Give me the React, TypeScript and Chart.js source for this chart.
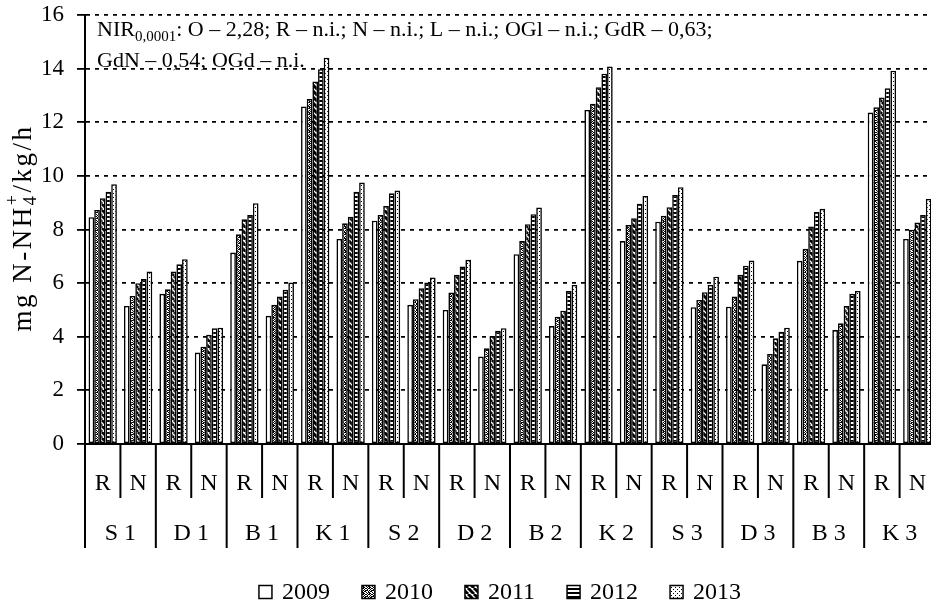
import React, { useEffect, useRef } from "react";
import { Chart, registerables } from "chart.js";

Chart.register(...registerables);

// ---- data ----
const groups = ["S 1", "D 1", "B 1", "K 1", "S 2", "D 2", "B 2", "K 2", "S 3", "D 3", "B 3", "K 3"];
const subLabels = ["R", "N"];
const categories = groups.flatMap((g) => subLabels.map((s) => `${g} ${s}`));
const years = ["2009", "2010", "2011", "2012", "2013"];
const y2009 = [8.46, 5.15, 5.6, 3.41, 7.14, 4.78, 12.59, 7.65, 8.33, 5.19, 5.0, 3.26, 7.08, 4.4, 12.46, 7.57, 8.29, 5.1, 5.12, 2.97, 6.83, 4.25, 12.36, 7.65];
const y2010 = [8.73, 5.52, 5.77, 3.63, 7.82, 5.19, 12.87, 8.23, 8.54, 5.4, 5.65, 3.57, 7.57, 4.75, 12.69, 8.17, 8.51, 5.37, 5.5, 3.36, 7.28, 4.5, 12.56, 7.99];
const y2011 = [9.17, 6.0, 6.43, 4.07, 8.38, 5.5, 13.52, 8.48, 8.88, 5.81, 6.31, 4.03, 8.2, 4.97, 13.31, 8.42, 8.83, 5.66, 6.31, 3.94, 8.11, 5.15, 12.92, 8.26];
const y2012 = [9.41, 6.15, 6.7, 4.32, 8.54, 5.75, 13.98, 9.41, 9.35, 6.02, 6.62, 4.22, 8.57, 5.71, 13.81, 8.96, 9.29, 5.93, 6.65, 4.19, 8.65, 5.6, 13.27, 8.54];
const y2013 = [9.69, 6.43, 6.89, 4.34, 8.98, 6.02, 14.41, 9.75, 9.45, 6.21, 6.87, 4.32, 8.82, 5.93, 14.08, 9.25, 9.58, 6.24, 6.84, 4.34, 8.77, 5.71, 13.92, 9.14];
const seriesValues = [y2009, y2010, y2011, y2012, y2013];
const yMin = 0;
const yMax = 16;
const yStep = 2;
const noteLine1 = { main: "NIR", sub: "0,0001", rest: ": O – 2,28; R – n.i.; N – n.i.; L – n.i.; OGl – n.i.; GdR – 0,63;" };
const noteLine2 = "GdN – 0,54; OGd – n.i.";
const yTitle = { a: "mg N-NH", sub: "4", sup: "+", b: "/kg/h" };

const FONT = '"Liberation Serif", "Times New Roman", serif';

const denseBits = [
  "101101",
  "010010",
  "110101",
  "001011",
  "101100",
  "010110",
];

function makePattern(kind: string): CanvasPattern | string {
  const c = document.createElement("canvas");
  const p = c.getContext("2d")!;
  if (kind === "empty") return "#ffffff";
  if (kind === "dense") {
    c.width = 6; c.height = 6;
    p.fillStyle = "#fff"; p.fillRect(0, 0, 6, 6);
    p.fillStyle = "#000";
    denseBits.forEach((row, y) => row.split("").forEach((b, x) => { if (b === "1") p.fillRect(x, y, 1, 1); }));
  } else if (kind === "diag") {
    c.width = 6; c.height = 6;
    p.fillStyle = "#fff"; p.fillRect(0, 0, 6, 6);
    p.strokeStyle = "#000"; p.lineWidth = 3;
    for (const o of [-6, 0, 6]) {
      p.beginPath(); p.moveTo(o, 0); p.lineTo(o + 6, 6); p.stroke();
    }
  } else if (kind === "hstripe") {
    c.width = 4; c.height = 4;
    p.fillStyle = "#fff"; p.fillRect(0, 0, 4, 4);
    p.fillStyle = "#000"; p.fillRect(0, 0, 4, 2);
  } else {
    c.width = 4; c.height = 4;
    p.fillStyle = "#fff"; p.fillRect(0, 0, 4, 4);
    p.fillStyle = "#000"; p.fillRect(1, 1, 1, 1); p.fillRect(3, 3, 1, 1);
  }
  return p.createPattern(c, "repeat")!;
}

const patternKinds = ["empty", "dense", "diag", "hstripe", "sparse"];

export default function App() {
  const ref = useRef<HTMLCanvasElement | null>(null);
  useEffect(() => {
    const canvas = ref.current!;
    const fills = patternKinds.map(makePattern);

    const overlay = {
      id: "overlay",
      afterDraw(chart: any) {
        const { ctx, chartArea, scales } = chart;
        const x = scales.x;
        const n = categories.length;
        const catW = (chartArea.right - chartArea.left) / n;
        const base = chartArea.bottom;
        ctx.save();
        // separators
        ctx.strokeStyle = "#000";
        ctx.lineWidth = 2;
        for (let i = 0; i <= n; i++) {
          const px = chartArea.left + i * catW;
          ctx.beginPath();
          ctx.moveTo(px, base);
          ctx.lineTo(px, i % 2 === 0 ? base + 104 : base + 54);
          ctx.stroke();
        }
        ctx.fillStyle = "#000";
        ctx.textAlign = "center";
        ctx.textBaseline = "middle";
        ctx.font = `24px ${FONT}`;
        categories.forEach((_, i) => ctx.fillText(subLabels[i % 2], x.getPixelForValue(i), base + 40));
        groups.forEach((g, gi) => {
          const cx = (x.getPixelForValue(2 * gi) + x.getPixelForValue(2 * gi + 1)) / 2;
          ctx.fillText(g, cx, base + 90);
        });

        // note text
        ctx.textAlign = "left";
        ctx.textBaseline = "alphabetic";
        let tx = 97;
        ctx.font = `22px ${FONT}`;
        ctx.fillText(noteLine1.main, tx, 36);
        tx += ctx.measureText(noteLine1.main).width;
        ctx.font = `15px ${FONT}`;
        ctx.fillText(noteLine1.sub, tx, 41);
        tx += ctx.measureText(noteLine1.sub).width;
        ctx.font = `22px ${FONT}`;
        ctx.fillText(noteLine1.rest, tx, 36);
        ctx.fillText(noteLine2, 97, 67);

        // y title
        ctx.save();
        ctx.translate(31, 228);
        ctx.rotate(-Math.PI / 2);
        (ctx as any).letterSpacing = "2.5px";
        ctx.font = `27px ${FONT}`;
        const wa = ctx.measureText(yTitle.a).width;
        const wb = ctx.measureText(yTitle.b).width;
        ctx.font = `18px ${FONT}`;
        const ws = Math.max(ctx.measureText(yTitle.sub).width, ctx.measureText(yTitle.sup).width);
        const total = wa + ws + wb;
        let sx = -total / 2;
        ctx.textBaseline = "alphabetic";
        ctx.font = `27px ${FONT}`;
        ctx.fillText(yTitle.a, sx, 0);
        sx += wa;
        ctx.font = `18px ${FONT}`;
        ctx.fillText(yTitle.sub, sx, 5);
        ctx.fillText(yTitle.sup, sx, -13);
        sx += ws;
        ctx.font = `27px ${FONT}`;
        ctx.fillText(yTitle.b, sx, 0);
        ctx.restore();

        // legend
        ctx.font = `24px ${FONT}`;
        ctx.textBaseline = "middle";
        const box = 13, gapText = 10, gapItem = 32;
        const widths = years.map((y) => box + gapText + ctx.measureText(y).width);
        const totalW = widths.reduce((a, b) => a + b, 0) + gapItem * (years.length - 1);
        let lx = 500 - totalW / 2;
        const ly = 592;
        years.forEach((y, i) => {
          ctx.fillStyle = fills[i] as any;
          ctx.fillRect(lx, ly - box / 2, box, box);
          ctx.strokeStyle = "#000";
          ctx.lineWidth = 1.5;
          ctx.strokeRect(lx, ly - box / 2, box, box);
          ctx.fillStyle = "#000";
          ctx.fillText(y, lx + box + gapText, ly + 1);
          lx += widths[i] + gapItem;
        });
        ctx.restore();
      },
    };

    const chart = new Chart(canvas, {
      type: "bar",
      data: {
        labels: categories,
        datasets: years.map((y, i) => ({
          label: y,
          data: seriesValues[i],
          backgroundColor: fills[i] as any,
          borderColor: "#000",
          borderWidth: 1.6,
          borderSkipped: false,
          categoryPercentage: 0.8,
          barPercentage: 1.0,
        })),
      },
      options: {
        responsive: false,
        animation: false,
        devicePixelRatio: 1,
        layout: { padding: { top: 15, left: 0, right: 0, bottom: 0 } },
        plugins: { legend: { display: false }, tooltip: { enabled: false }, title: { display: false } },
        scales: {
          x: {
            ticks: { display: false },
            grid: { display: false },
            border: { display: true, color: "#000", width: 2 },
            afterFit: (s: any) => { s.height = 161; s.paddingLeft = 0; s.paddingRight = 0; },
          },
          y: {
            min: yMin,
            max: yMax,
            ticks: { stepSize: yStep, color: "#000", font: { family: FONT, size: 23 }, padding: 13 },
            grid: {
              color: "#000",
              lineWidth: 1.8,
              tickLength: 8,
              tickWidth: 1.8,
              tickColor: "#000",
              tickBorderDash: [],
            },
            border: { display: true, color: "#000", width: 2, dash: [4, 5] },
            afterFit: (s: any) => { s.width = 85; s.paddingTop = 0; s.paddingBottom = 0; },
          },
        },
      },
      plugins: [overlay],
    });
    return () => chart.destroy();
  }, []);

  return (
    <div style={{ position: "absolute", left: 0, top: 0, width: 931, height: 605, overflow: "hidden", background: "#fff" }}>
      <canvas ref={ref} width={935} height={605} style={{ display: "block" }} />
    </div>
  );
}
